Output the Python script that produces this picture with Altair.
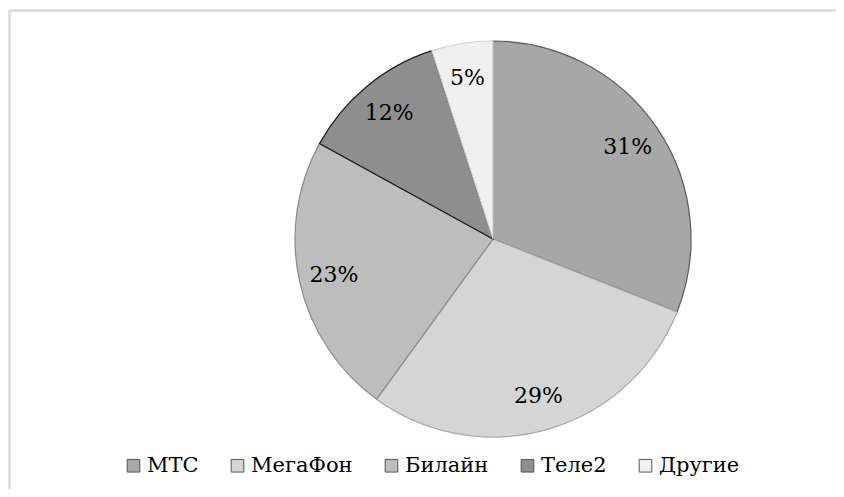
import altair as alt
import pandas as pd

categories = ["МТС", "МегаФон", "Билайн", "Теле2", "Другие"]
shares = [31, 29, 23, 12, 5]
labels = ["31%", "29%", "23%", "12%", "5%"]
fills = ["#a7a7a7", "#d5d5d5", "#bdbdbd", "#8e8e8e", "#efefef"]
edges = ["#5a5a5a", "#a6a6a6", "#8a8a8a", "#1a1a1a", "#d0d0d0"]

df = pd.DataFrame({
    "cat": categories,
    "value": shares,
    "label": labels,
    "edge": edges,
    "idx": list(range(len(categories))),
})

W, H = 828, 481
CX, CY = 485, 231
R = 198
FONT = "DejaVu Serif"

base = alt.Chart(df).encode(
    theta=alt.Theta("value:Q", stack=True),
    order=alt.Order("idx:Q"),
)

pie = base.mark_arc(outerRadius=R, strokeWidth=1.2).encode(
    x=alt.value(CX),
    y=alt.value(CY),
    color=alt.Color(
        "cat:N",
        scale=alt.Scale(domain=categories, range=fills),
        sort=categories,
        legend=alt.Legend(
            title=None,
            orient="none",
            direction="horizontal",
            legendX=115,
            legendY=447,
            symbolType="square",
            symbolSize=160,
            symbolStrokeColor="#555555",
            symbolStrokeWidth=1,
            labelFont=FONT,
            labelFontSize=21,
            labelColor="#000000",
            labelOffset=3,
            columnPadding=28,
            labelLimit=300,
        ),
    ),
    stroke=alt.Stroke("edge:N", scale=None),
)

text = base.mark_text(radius=163, font=FONT, fontSize=22, color="#000000").encode(
    x=alt.value(CX),
    y=alt.value(CY),
    text="label:N",
)

frame_top = alt.Chart(df).mark_rule(color="#d9d9d9", strokeWidth=1.5).encode(
    x=alt.value(1.5), x2=alt.value(W), y=alt.value(2.5), y2=alt.value(2.5)
)
frame_left = alt.Chart(df).mark_rule(color="#d9d9d9", strokeWidth=1.5).encode(
    x=alt.value(1.5), x2=alt.value(1.5), y=alt.value(2.5), y2=alt.value(H)
)

chart = alt.layer(frame_top, frame_left, pie, text).properties(
    width=W,
    height=H,
    autosize=alt.AutoSizeParams(type="none"),
    padding=0,
).configure_view(stroke=None)

chart.save("out.html", embed_options={"renderer": "svg", "actions": False})
